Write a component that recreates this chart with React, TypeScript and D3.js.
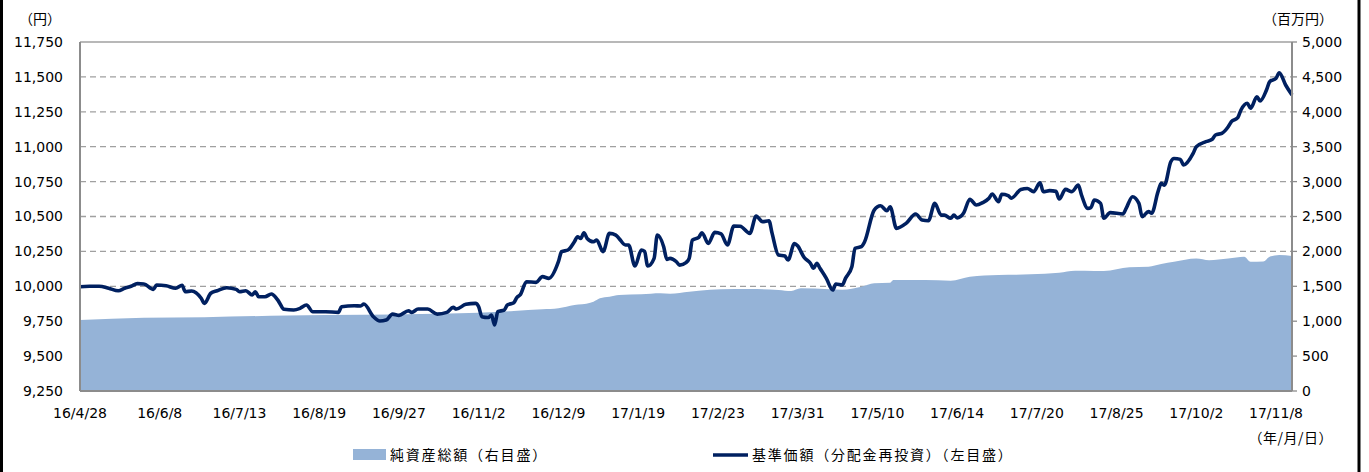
import React from 'react';
import * as d3 from 'd3';

// x axis category labels, one every 25 business days
const xLabels = ['16/4/28', '16/6/8', '16/7/13', '16/8/19', '16/9/27', '16/11/2', '16/12/9', '17/1/19',
  '17/2/23', '17/3/31', '17/5/10', '17/6/14', '17/7/20', '17/8/25', '17/10/2', '17/11/8'];
const labelStep = 25;
const lastDay = 380;

const leftTicks = [9250, 9500, 9750, 10000, 10250, 10500, 10750, 11000, 11250, 11500, 11750];
const rightTicks = [0, 500, 1000, 1500, 2000, 2500, 3000, 3500, 4000, 4500, 5000];

// 基準価額 (分配金再投資): [business day, yen]
const navData: [number, number][] = [
  [0, 9997], [3, 10000], [6, 10000], [9, 9986], [12, 9968], [14, 9986], [16, 10000], [18, 10019], [20, 10017],
  [23, 9978], [24, 10009], [27, 10004], [30, 9986], [32, 10007], [33, 9961], [35, 9966], [38, 9914], [39, 9878],
  [41, 9950], [43, 9968], [46, 9990], [49, 9978], [50, 9961], [52, 9968], [54, 9938], [55, 9961], [56, 9925],
  [58, 9925], [60, 9945], [62, 9902], [64, 9835], [67, 9830], [69, 9842], [71, 9866], [73, 9818], [77, 9818],
  [81, 9813], [82, 9854], [86, 9861], [88, 9859], [89, 9873], [92, 9782], [94, 9751], [96, 9758], [98, 9801],
  [100, 9792], [103, 9825], [104, 9813], [106, 9837], [109, 9837], [112, 9801], [115, 9813], [117, 9849],
  [118, 9837], [121, 9871], [124, 9878], [125, 9854], [126, 9782], [128, 9776], [129, 9794], [130, 9723],
  [131, 9818], [133, 9830], [134, 9866], [136, 9882], [137, 9921], [138, 9938], [140, 10033], [143, 10028],
  [145, 10069], [147, 10057], [150, 10176], [151, 10248], [153, 10260], [155, 10319], [156, 10355], [157, 10343],
  [158, 10384], [159, 10343], [161, 10319], [162, 10331], [164, 10248], [166, 10379], [168, 10367], [169, 10343],
  [171, 10296], [172, 10296], [174, 10145], [176, 10260], [177, 10250], [178, 10145], [180, 10200], [181, 10367],
  [183, 10284], [184, 10193], [185, 10200], [187, 10176], [188, 10152], [190, 10170], [191, 10200], [192, 10331],
  [194, 10351], [195, 10384], [197, 10307], [199, 10386], [201, 10375], [203, 10296], [205, 10432], [207, 10430],
  [210, 10379], [212, 10503], [214, 10463], [216, 10470], [217, 10379], [219, 10224], [221, 10217], [222, 10188],
  [224, 10307], [225, 10290], [227, 10208], [229, 10165], [230, 10129], [231, 10165], [232, 10129], [234, 10057],
  [236, 9973], [237, 10016], [239, 10009], [240, 10057], [242, 10140], [243, 10272], [245, 10284], [246, 10319],
  [249, 10546], [251, 10577], [253, 10541], [254, 10570], [256, 10415], [259, 10451], [262, 10518], [264, 10475],
  [266, 10470], [268, 10594], [270, 10510], [271, 10510], [273, 10487], [274, 10510], [275, 10490], [277, 10523],
  [279, 10623], [281, 10582], [283, 10599], [285, 10631], [286, 10661], [288, 10606], [289, 10659], [291, 10650],
  [292, 10631], [295, 10694], [297, 10701], [299, 10678], [301, 10742], [302, 10678], [304, 10685], [306, 10680],
  [307, 10625], [309, 10694], [311, 10678], [313, 10725], [314, 10654], [316, 10558], [317, 10565], [318, 10618],
  [320, 10594], [321, 10487], [323, 10528], [327, 10518], [328, 10558], [330, 10642], [332, 10594], [333, 10499],
  [335, 10535], [336, 10523], [338, 10678], [339, 10737], [340, 10725], [342, 10892], [343, 10916], [345, 10909],
  [346, 10869], [349, 10952], [350, 11000], [353, 11036], [355, 11053], [356, 11084], [358, 11096], [360, 11143],
  [361, 11179], [363, 11208], [364, 11263], [366, 11311], [367, 11275], [369, 11358], [370, 11327], [372, 11406],
  [373, 11466], [375, 11490], [376, 11530], [378, 11442], [380, 11370],
];

// 純資産総額: [business day, million yen]
const assetData: [number, number][] = [
  [0, 1017], [20, 1050], [39, 1058], [65, 1082], [89, 1093], [125, 1122], [136, 1146], [145, 1170], [150, 1185],
  [155, 1232], [160, 1265], [161, 1280], [163, 1328], [166, 1351], [169, 1375], [176, 1385], [182, 1400],
  [185, 1395], [191, 1423], [194, 1437], [201, 1457], [210, 1461], [219, 1447], [223, 1432], [226, 1471],
  [235, 1457], [239, 1450], [245, 1494], [249, 1542], [254, 1551], [255, 1590], [265, 1590], [273, 1580],
  [279, 1638], [288, 1662], [298, 1671], [307, 1695], [312, 1723], [318, 1720], [321, 1720], [329, 1772],
  [335, 1781], [339, 1819], [343, 1852], [350, 1900], [354, 1875], [360, 1900], [365, 1924], [367, 1852],
  [371, 1855], [373, 1924], [376, 1948], [380, 1934],
];

const W = 1369;
const H = 472;
const left = 80;
const right = 1292;
const top = 42;
const bottom = 391;
const numFont = '"DejaVu Sans", sans-serif';
const jpFont = '"Noto Sans CJK JP", sans-serif';
const fmt = d3.format(',');

export default function App() {
  const x = d3.scaleLinear().domain([0, lastDay]).range([left, right]);
  const yL = d3.scaleLinear().domain([9250, 11750]).range([bottom, top]);
  const yR = d3.scaleLinear().domain([0, 5000]).range([bottom, top]);

  const area = d3.area<[number, number]>()
    .x(d => x(d[0]))
    .y0(bottom)
    .y1(d => yR(d[1]))
    .curve(d3.curveMonotoneX);

  const line = d3.line<[number, number]>()
    .x(d => x(d[0]))
    .y(d => yL(d[1]))
    .curve(d3.curveMonotoneX);

  return (
    <svg width={W} height={H} style={{ position: 'absolute', left: 0, top: 0, background: '#fff' }}
      fontFamily={numFont}>
      {/* grid */}
      {leftTicks.map((t, i) => (
        <line key={t} x1={left} x2={right} y1={yL(t)} y2={yL(t)}
          stroke="#a0a0a0" strokeWidth={1.3} strokeDasharray={i === leftTicks.length - 1 ? undefined : '6,4'} />
      ))}

      <path d={area(assetData) ?? ''} fill="#95b3d7" />
      <path d={line(navData) ?? ''} fill="none" stroke="#002060" strokeWidth={3.6} strokeLinejoin="round" />

      {/* axes */}
      <line x1={left} x2={left} y1={top} y2={bottom} stroke="#8c8c8c" strokeWidth={2} />
      <line x1={right} x2={right} y1={top} y2={bottom} stroke="#8c8c8c" strokeWidth={2} />
      <line x1={left} x2={right} y1={bottom} y2={bottom} stroke="#8c8c8c" strokeWidth={2} />
      {rightTicks.map(t => (
        <line key={t} x1={right} x2={right + 5} y1={yR(t)} y2={yR(t)} stroke="#8c8c8c" strokeWidth={1.3} />
      ))}

      {leftTicks.map(t => (
        <text key={t} x={63} y={yL(t)} dy="0.35em" textAnchor="end" fontSize={14} fill="#000">{fmt(t)}</text>
      ))}
      {rightTicks.map(t => (
        <text key={t} x={1302} y={yR(t)} dy="0.35em" textAnchor="start" fontSize={14} fill="#000">{fmt(t)}</text>
      ))}
      {xLabels.map((l, i) => (
        <text key={l} x={x(i * labelStep)} y={418} textAnchor="middle" fontSize={14} fill="#000">{l}</text>
      ))}

      <g fontFamily={jpFont} fontSize={14}>
        <text x={61} y={24} textAnchor="end">（円）</text>
        <text x={1333} y={24} textAnchor="end">（百万円）</text>
        <text x={1333} y={443} textAnchor="end" letterSpacing={0.5}>（年/月/日）</text>

        {/* legend */}
        <rect x={353} y={449} width={33} height={11} fill="#95b3d7" />
        <text x={390} y={460} letterSpacing={1.8}>純資産総額（右目盛）</text>
        <line x1={713} x2={748} y1={455} y2={455} stroke="#002060" strokeWidth={3.6} />
        <text x={752} y={460} letterSpacing={1.8}>基準価額（分配金再投資）（左目盛）</text>
      </g>

      {/* frame */}
      <line x1={1.5} x2={1.5} y1={0} y2={H} stroke="#000" strokeWidth={3} />
      <line x1={1359} x2={1359} y1={0} y2={H} stroke="#000" strokeWidth={3} />
    </svg>
  );
}
